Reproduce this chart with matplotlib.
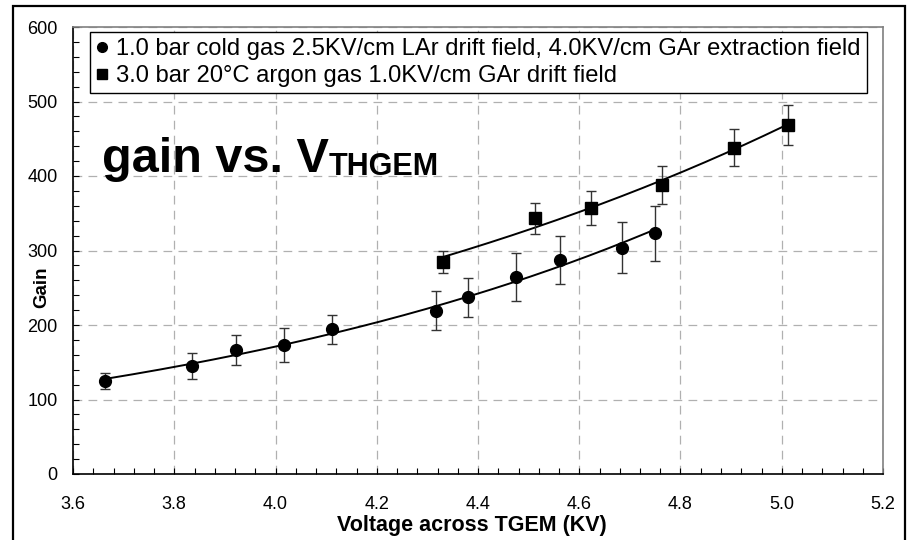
import numpy as np
import matplotlib
matplotlib.use("Agg")
import matplotlib.pyplot as plt
from matplotlib.lines import Line2D
from matplotlib.patches import Rectangle
from matplotlib.ticker import MultipleLocator, FormatStrFormatter

plt.rcParams['font.family'] = ['Liberation Sans', 'DejaVu Sans']

## cold gas run (circles): voltage in KV, gain and error
v_cold = [3.663, 3.836, 3.922, 4.017, 4.112, 4.318, 4.381, 4.476, 4.561, 4.684, 4.750]
g_cold = [125, 145, 166, 173, 194, 219, 237, 264, 287, 304, 323]
e_cold = [11, 17, 20, 23, 19, 26, 26, 32, 32, 34, 37]

## 3 bar warm argon run (squares)
v_warm = [4.330, 4.512, 4.623, 4.764, 4.905, 5.013]
g_warm = [285, 343, 357, 388, 438, 468]
e_warm = [15, 21, 23, 26, 25, 27]

lbl_cold = "1.0 bar cold gas 2.5KV/cm LAr drift field, 4.0KV/cm GAr extraction field"
lbl_warm = "3.0 bar 20\u00b0C argon gas 1.0KV/cm GAr drift field"


def expfit(v, g):
    ## exponential trendline through the points
    b, a = np.polyfit(v, np.log(g), 1)
    xs = np.linspace(min(v), max(v), 200)
    return xs, np.exp(a + b * xs)


fig = plt.figure(figsize=(9.11, 5.40), dpi=100)
ax = fig.add_axes([73/911, 66/540, 810/911, 447/540])

ax.set_xlim(3.6, 5.2)
ax.set_ylim(0, 600)
ax.xaxis.set_major_locator(MultipleLocator(0.2))
ax.xaxis.set_minor_locator(MultipleLocator(0.04))
ax.yaxis.set_major_locator(MultipleLocator(100))
ax.yaxis.set_minor_locator(MultipleLocator(20))
ax.xaxis.set_major_formatter(FormatStrFormatter('%.1f'))

ax.grid(True, which='major', color='#b0b0b0', lw=0.9, linestyle=(0, (7, 5)))
ax.set_axisbelow(True)

ax.tick_params(which='both', direction='in', length=4, width=0.8, labelsize=13)
ax.tick_params(axis='x', which='major', pad=16)
ax.tick_params(axis='y', which='major', pad=11)

for s in ['left', 'bottom']:
    ax.spines[s].set_color('black')
    ax.spines[s].set_linewidth(1.2)
for s in ['top', 'right']:
    ax.spines[s].set_color('#808080')
    ax.spines[s].set_linewidth(1.2)

## fit lines
xs, ys = expfit(v_cold, g_cold)
ax.plot(xs, ys, color='black', lw=1.4)
xs, ys = expfit(v_warm, g_warm)
ax.plot(xs, ys, color='black', lw=1.4)

## data with errors
ax.errorbar(v_cold, g_cold, yerr=e_cold, fmt='o', color='black', ms=8.5,
            ecolor='#333333', elinewidth=1.0, capsize=3.5, capthick=1.0)
ax.errorbar(v_warm, g_warm, yerr=e_warm, fmt='s', color='black', ms=8,
            ecolor='#333333', elinewidth=1.0, capsize=3.5, capthick=1.0)

handles = [Line2D([], [], marker='o', ls='none', color='black', ms=7),
           Line2D([], [], marker='s', ls='none', color='black', ms=7)]
leg = ax.legend(handles, [lbl_cold, lbl_warm], loc='upper left',
                bbox_to_anchor=(17/810, 442/447), fontsize=17.1,
                handlelength=0.5, handletextpad=0.35, labelspacing=0.22,
                borderpad=0.25, borderaxespad=0, fancybox=False,
                framealpha=1, edgecolor='black')
leg.get_frame().set_linewidth(1.0)

ax.set_xlabel("Voltage across TGEM (KV)", fontsize=15.5, fontweight='bold')
ax.xaxis.set_label_coords(0.4926, -0.092)
ax.set_ylabel("Gain", fontsize=13.5, fontweight='bold')
ax.yaxis.set_label_coords(-0.028, 0.418)

## big title inside the plot
main = ax.text(29/810, 302/447, "gain vs. V", transform=ax.transAxes,
               fontsize=35, fontweight='bold', va='baseline', ha='left')
ax.annotate("THGEM", xy=(1, 0), xycoords=main, fontsize=22,
            fontweight='bold', va='bottom', ha='left')

## outer frame round the figure
fig.add_artist(Rectangle((13/911, -0.1), (905-13)/911, 1.1 - 6/540,
                         transform=fig.transFigure, fill=False,
                         lw=1.6, edgecolor='black'))

fig.savefig("out.png", dpi=100)
